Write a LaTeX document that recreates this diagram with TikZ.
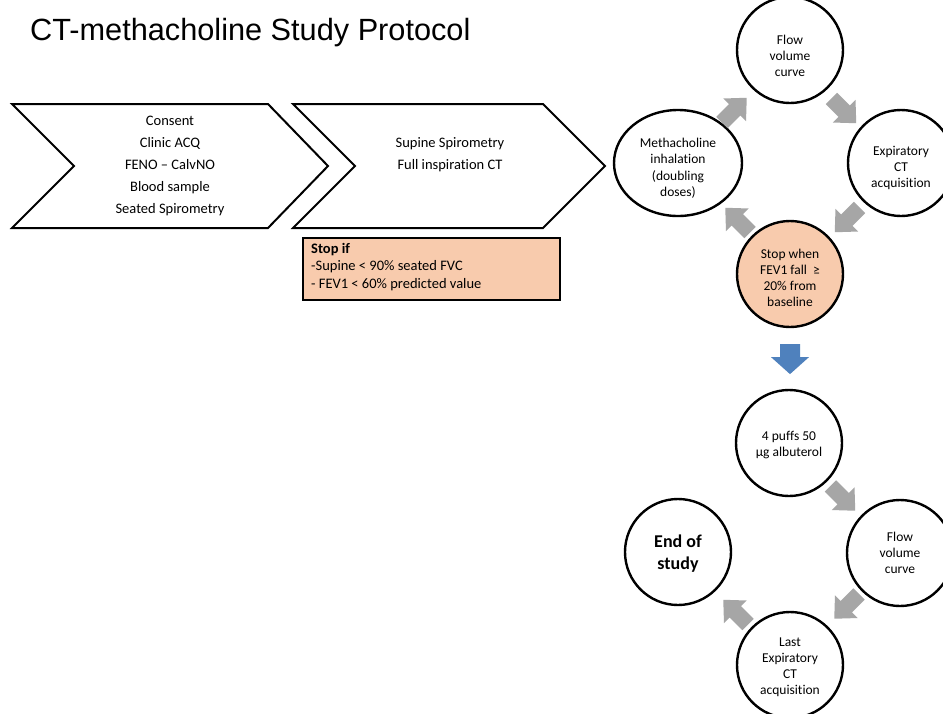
\documentclass[tikz,border=0pt]{standalone}
\usepackage{fontspec}
\setmainfont{Carlito}[Ligatures={NoCommon,NoContextual}]
\newfontfamily\titlefont{Liberation Sans}
\usetikzlibrary{shapes.geometric,calc}
\definecolor{peach}{HTML}{F8CBAD}
\definecolor{arrgray}{HTML}{A6A6A6}
\definecolor{arrblue}{HTML}{4F81BD}
\tikzset{
  chev/.style={draw=black, line width=2pt, line join=miter, fill=white},
  circ/.style={circle, draw=black, line width=2.4pt, minimum size=106pt, inner sep=0pt, align=center, font=\fontsize{13.5}{16}\selectfont},
  circtext/.style={align=center, inner sep=0pt, font=\fontsize{13.5}{16}\selectfont},
  chevtext/.style={align=center, inner sep=0pt, font=\fontsize{14.5}{22}\selectfont},
  stopbox/.style={draw=black, line width=2pt, fill=peach},
}
\newcommand\fatarrow[2]{%
  \fill[arrgray, shift={#1}, rotate=#2] (-17,-8) -- (1,-8) -- (1,-16) -- (18,0) -- (1,16) -- (1,8) -- (-17,8) -- cycle;}
\begin{document}
\begin{tikzpicture}[x=1pt,y=-1pt]
\useasboundingbox (0,0) rectangle (943,713);
\clip (0,0) rectangle (943,713);
\fill[white] (0,0) rectangle (943,713);

% title
\node[anchor=base west, inner sep=0pt, font=\titlefont\fontsize{30.7}{34}\selectfont] (title) at (30,40) {CT-methacholine Study Protocol};

% chevrons
\draw[chev] (12,104) -- (268,104) -- (328,166) -- (268,228) -- (12,228) -- (74,166) -- cycle;
\draw[chev] (293,104) -- (543,104) -- (605,166) -- (543,228) -- (293,228) -- (355,166) -- cycle;
\node[chevtext] (c1) at (170,166) {Consent\\Clinic ACQ\\FENO -- CalvNO\\Blood sample\\Seated Spirometry};
\node[chevtext] (c2) at (450,155) {Supine Spirometry\\Full inspiration CT};

% stop box
\draw[stopbox] (303,238) rectangle (560,300);
\node[anchor=north west, align=left, inner sep=0pt, font=\fontsize{14.5}{17.5}\selectfont] (stopif) at (311,243) {\textbf{Stop if}\\-Supine < 90\% seated FVC\\- FEV1 < 60\% predicted value};

% top cycle
\node[circ] (flow1) at (790,50) {};
\node[circtext] (flow1t) at ($(flow1)+(0,6)$) {Flow\\volume\\curve};
\node[ellipse, draw=black, line width=2.4pt, minimum width=128pt, minimum height=106pt, inner sep=0pt] (meth) at (678,163) {};
\node[circtext, font=\fontsize{13.5}{16.5}\selectfont] (metht) at ($(meth)+(0,5)$) {Methacholine\\inhalation\\(doubling\\doses)};
\node[circ] (exp1) at (901,163) {};
\node[circtext] (exp1t) at ($(exp1)+(0,5)$) {Expiratory\\CT\\acquisition};
\node[circ, fill=peach] (stop) at (790,274) {};
\node[circtext] (stopt) at ($(stop)+(0,4)$) {Stop when\\FEV1 fall\ \ ≥\\20\% from\\baseline};

\fatarrow{($(meth)!0.5!(flow1)+(0,4)$)}{45}
\fatarrow{($(flow1)!0.5!(exp1)+(-2,4)$)}{-45}
\fatarrow{($(exp1)!0.5!(stop)+(2,1)$)}{-135}
\fatarrow{($(stop)!0.5!(meth)+(4,2)$)}{135}

% blue arrow
\coordinate (bmid) at ($(stop.south)!0.5!(790,390)$);
\fill[arrblue, shift={(bmid)}] (-10,-15) -- (10,-15) -- (10,-2) -- (19,-2) -- (0,15) -- (-19,-2) -- (-10,-2) -- cycle;

% bottom cycle
\node[circ] (puff) at (789,443) {};
\node[circtext] (pufft) at ($(puff)+(0,2)$) {4 puffs 50\\µg albuterol};
\node[circ] (flow2) at (900,553) {Flow\\volume\\curve};
\node[circ] (end) at (678,552) {};
\node[circtext, font=\bfseries\fontsize{18}{22}\selectfont] (endt) at ($(end)+(0,2)$) {End of\\study};
\node[circ] (last) at (790,665) {};
\node[circtext] (lastt) at ($(last)+(0,2)$) {Last\\Expiratory\\CT\\acquisition};

\fatarrow{($(puff)!0.5!(flow2)+(-2,0)$)}{-45}
\fatarrow{($(flow2)!0.5!(last)+(2,-3)$)}{-135}
\fatarrow{($(last)!0.5!(end)+(2,4)$)}{135}
\end{tikzpicture}
\end{document}
